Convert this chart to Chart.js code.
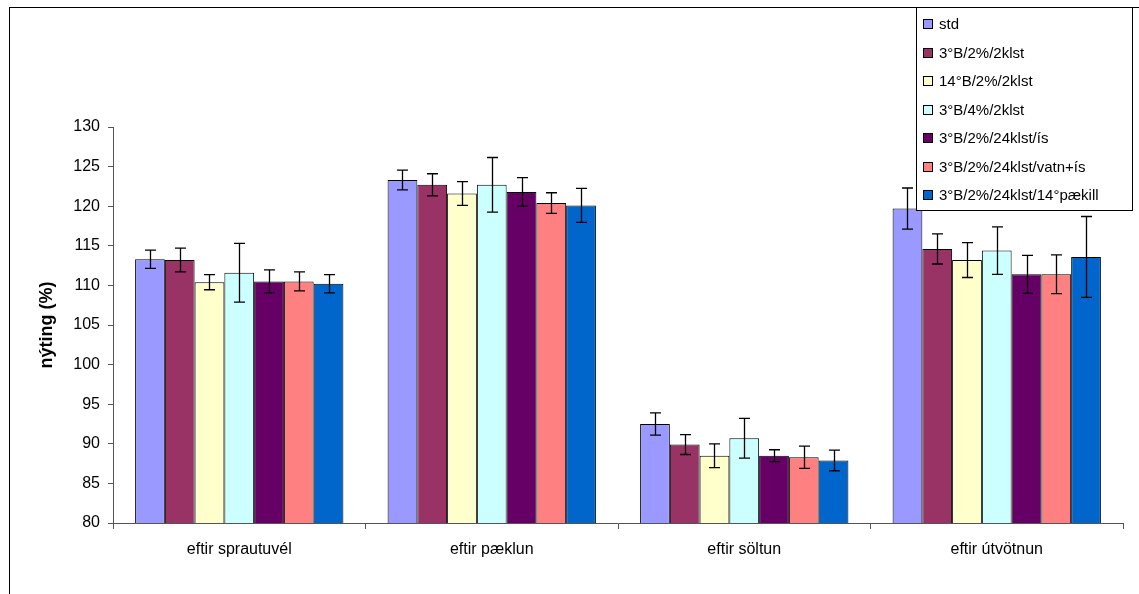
<!DOCTYPE html>
<html>
<head>
<meta charset="utf-8">
<script src="https://cdn.jsdelivr.net/npm/chart.js@4/dist/chart.umd.min.js"></script>
<style>
  html, body { margin: 0; padding: 0; background: #fff; }
  #wrap { width: 1139px; height: 594px; position: relative; }
</style>
</head>
<body>
<div id="wrap"><canvas id="chart"></canvas></div>
<script>
// categories and tick labels
const categories = ['eftir sprautuvél', 'eftir pæklun', 'eftir söltun', 'eftir útvötnun'];
const yTicks = [80, 85, 90, 95, 100, 105, 110, 115, 120, 125, 130];

// series names
const seriesNames = ['std', '3°B/2%/2klst', '14°B/2%/2klst', '3°B/4%/2klst',
	'3°B/2%/24klst/ís', '3°B/2%/24klst/vatn+ís', '3°B/2%/24klst/14°pækill'];
const seriesColors = ['#9999FF', '#993366', '#FFFFCC', '#CCFFFF', '#660066', '#FF8080', '#0066CC'];

// mean values per series (one per category)
const std = [113.3, 123.3, 92.5, 119.7];
const b3_2_2 = [113.2, 122.7, 89.9, 114.6];
const b14_2_2 = [110.4, 121.6, 88.5, 113.2];
const b3_4_2 = [111.6, 122.7, 90.7, 114.4];
const b3_24_is = [110.5, 121.8, 88.5, 111.4];
const b3_24_vatn = [110.5, 120.4, 88.3, 111.4];
const b3_24_14 = [110.2, 120.1, 87.9, 113.6];

// error (+/-) per series
const stdErr = [1.15, 1.25, 1.4, 2.6];
const b3_2_2Err = [1.5, 1.4, 1.25, 1.9];
const b14_2_2Err = [0.95, 1.5, 1.5, 2.2];
const b3_4_2Err = [3.7, 3.45, 2.5, 3.0];
const b3_24_isErr = [1.45, 1.8, 0.75, 2.4];
const b3_24_vatnErr = [1.2, 1.3, 1.4, 2.45];
const b3_24_14Err = [1.15, 2.15, 1.3, 5.1];

const seriesValues = [std, b3_2_2, b14_2_2, b3_4_2, b3_24_is, b3_24_vatn, b3_24_14];
const seriesErrors = [stdErr, b3_2_2Err, b14_2_2Err, b3_4_2Err, b3_24_isErr, b3_24_vatnErr, b3_24_14Err];

const FONT = "'Liberation Sans', Arial, sans-serif";

let datasets = seriesNames.map(function (name, i) {
	return {
		label: name,
		data: seriesValues[i],
		errors: seriesErrors[i],
		backgroundColor: seriesColors[i],
		borderColor: '#000',
		borderWidth: 1,
		borderSkipped: 'bottom',
		categoryPercentage: 0.825,
		barPercentage: 1.0
	};
});

// outer frame of the chart area
const framePlugin = {
	id: 'frame',
	beforeDraw(chart) {
		let ctx = chart.ctx;
		ctx.save();
		ctx.fillStyle = '#fff';
		ctx.fillRect(0, 0, chart.width, chart.height);
		ctx.strokeStyle = '#000';
		ctx.lineWidth = 1;
		ctx.strokeRect(9.5, 7.5, chart.width + 20, chart.height + 20);
		ctx.restore();
	}
};

// error bars
const errorBarPlugin = {
	id: 'errorBars',
	afterDatasetsDraw(chart) {
		let ctx = chart.ctx;
		let y = chart.scales.y;
		ctx.save();
		ctx.strokeStyle = '#000';
		ctx.lineWidth = 1.3;
		chart.data.datasets.forEach(function (ds, i) {
			let meta = chart.getDatasetMeta(i);
			meta.data.forEach(function (bar, j) {
				let v = ds.data[j], e = ds.errors[j];
				let x = Math.round(bar.x) + 0.5;
				let yTop = y.getPixelForValue(v + e);
				let yBot = y.getPixelForValue(v - e);
				ctx.beginPath();
				ctx.moveTo(x, yTop); ctx.lineTo(x, yBot);
				ctx.moveTo(x - 5.5, yTop); ctx.lineTo(x + 5.5, yTop);
				ctx.moveTo(x - 5.5, yBot); ctx.lineTo(x + 5.5, yBot);
				ctx.stroke();
			});
		});
		ctx.restore();
	}
};

// boxed legend at top right
const legendPlugin = {
	id: 'boxLegend',
	afterDraw(chart) {
		let ctx = chart.ctx;
		ctx.save();
		let lx = 916.5, ly = 7.5, lw = 216, lh = 203;
		ctx.fillStyle = '#fff';
		ctx.fillRect(lx, ly, lw, lh);
		ctx.strokeStyle = '#000';
		ctx.lineWidth = 1;
		ctx.strokeRect(lx, ly, lw, lh);
		ctx.font = '15px ' + FONT;
		ctx.textBaseline = 'middle';
		chart.data.datasets.forEach(function (ds, i) {
			let cy = 24 + i * 28.55;
			ctx.fillStyle = ds.backgroundColor;
			ctx.fillRect(923.5, Math.round(cy) - 4.5, 9, 9);
			ctx.strokeStyle = '#000';
			ctx.strokeRect(923.5, Math.round(cy) - 4.5, 9, 9);
			ctx.fillStyle = '#000';
			ctx.fillText(ds.label, 939, cy + 1);
		});
		ctx.restore();
	}
};

new Chart(document.getElementById('chart'), {
	type: 'bar',
	data: { labels: categories, datasets: datasets },
	plugins: [framePlugin, errorBarPlugin, legendPlugin],
	options: {
		responsive: true,
		maintainAspectRatio: false,
		animation: false,
		devicePixelRatio: 1,
		layout: { padding: { left: 0, top: 127, right: 16, bottom: 0 } },
		plugins: {
			legend: { display: false },
			tooltip: { enabled: false }
		},
		scales: {
			x: {
				grid: { display: true, drawOnChartArea: false, offset: true, tickLength: 6, color: '#555' },
				border: { color: '#555', width: 1 },
				ticks: { color: '#000', font: { family: FONT, size: 16 }, padding: 11 },
				afterFit(scale) { scale.height = 71; }
			},
			y: {
				min: 80,
				max: 130,
				afterBuildTicks(scale) { scale.ticks = yTicks.map(v => ({ value: v })); },
				grid: { display: true, drawOnChartArea: false, tickLength: 5, color: '#555' },
				border: { color: '#555', width: 1 },
				ticks: { color: '#000', font: { family: FONT, size: 16 }, padding: 8 },
				title: {
					display: true,
					text: 'nýting (%)',
					color: '#000',
					font: { family: FONT, size: 18, weight: 'bold' },
					padding: { top: 36, bottom: 0 }
				},
				afterFit(scale) { scale.width = 113; }
			}
		}
	}
});
</script>
</body>
</html>
